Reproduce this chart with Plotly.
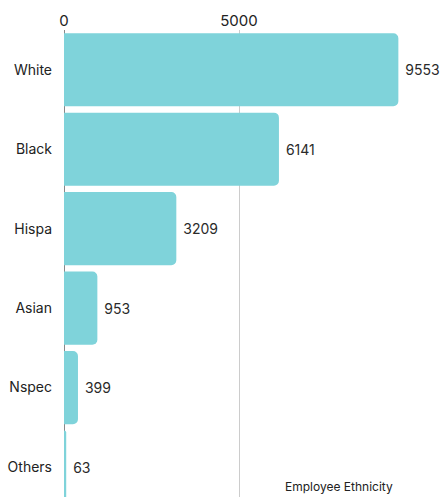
import plotly.graph_objects as go

# Employee counts by ethnicity
categories = ["White", "Black", "Hispa", "Asian", "Nspec", "Others"]
counts = [9553, 6141, 3209, 953, 399, 63]
x_tick_values = [0, 5000]
x_tick_labels = ["0", "5000"]
caption = "Employee Ethnicity"

BAR_COLOR = "#7fd3da"
FONT = "Inter"
TEXT_COLOR = "#222222"

fig = go.Figure(
    go.Bar(
        x=counts,
        y=categories,
        orientation="h",
        marker=dict(color=BAR_COLOR, line=dict(width=0)),
        text=[f"{v}" for v in counts],
        texttemplate=" %{text}",
        textposition="outside",
        textfont=dict(family=FONT, size=14, color="#2a2a2a"),
        cliponaxis=False,
        width=0.92,
    )
)

fig.update_layout(
    width=444,
    height=497,
    margin=dict(l=64, r=0, t=30, b=0),
    paper_bgcolor="white",
    plot_bgcolor="white",
    showlegend=False,
    barcornerradius=5,
    font=dict(family=FONT, size=14, color=TEXT_COLOR),
    xaxis=dict(
        side="top",
        range=[0, 10857],
        tickvals=x_tick_values,
        ticktext=x_tick_labels,
        showgrid=True,
        gridcolor="#cccccc",
        gridwidth=1,
        zeroline=True,
        zerolinecolor="#888888",
        zerolinewidth=1,
        showline=False,
        ticks="",
        tickfont=dict(family=FONT, size=15, color=TEXT_COLOR),
    ),
    yaxis=dict(
        categoryorder="array",
        categoryarray=categories,
        range=[5.377, -0.5],
        showgrid=False,
        zeroline=False,
        showline=False,
        ticks="",
        ticklabelstandoff=11,
        tickfont=dict(family=FONT, size=14, color=TEXT_COLOR),
    ),
    annotations=[
        dict(
            text=caption,
            xref="paper",
            yref="paper",
            x=0.724,
            y=0.0,
            xanchor="center",
            yanchor="bottom",
            yshift=1,
            showarrow=False,
            font=dict(family=FONT, size=12, color=TEXT_COLOR),
        )
    ],
)

fig.write_html("out.html")
